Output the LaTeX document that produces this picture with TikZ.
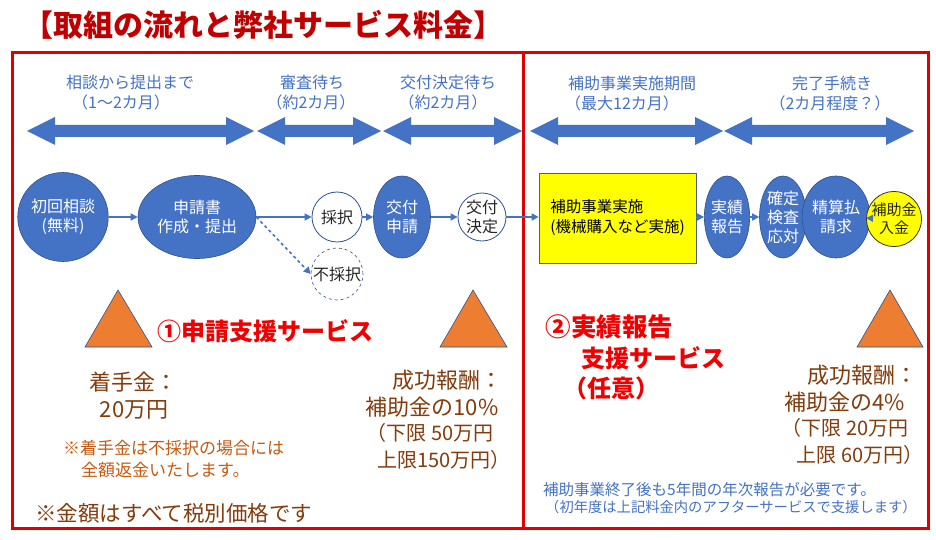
\documentclass[tikz,border=0pt]{standalone}
\usepackage{fontspec}
\setmainfont{Noto Sans CJK JP}
\usetikzlibrary{arrows.meta,shapes.geometric}
\definecolor{tblue}{HTML}{4472C4}
\definecolor{dblue}{HTML}{2F528F}
\definecolor{titlered}{HTML}{C00000}
\definecolor{boxred}{HTML}{E00000}
\definecolor{brightred}{HTML}{F00000}
\definecolor{tbrown}{HTML}{843C0C}
\definecolor{torange}{HTML}{C55A11}
\definecolor{tri}{HTML}{ED7D31}
\definecolor{yel}{HTML}{FFFF00}
\newcommand{\fsz}[2]{\fontsize{#1}{#2}\selectfont}
\newcommand{\dblarrow}[3]{%
  \fill[tblue] (#1,#3) -- ++(28,-14) -- ++(0,8) -- (#2-28,#3-6) -- ++(0,-8) -- (#2,#3) -- ++(-28,14) -- ++(0,-8) -- (#1+28,#3+6) -- ++(0,8) -- cycle;}
\tikzset{
  blueell/.style={ellipse,fill=tblue,draw=dblue,line width=0.6pt,text=white,inner sep=0pt,align=center,font=\fsz{16}{18.5}},
  whitecirc/.style={circle,fill=white,draw=dblue,line width=0.8pt,text=black!85,inner sep=0pt,align=center,font=\fsz{16}{18.5}},
  flow/.style={tblue,line width=1.6pt,-{Triangle[length=7pt,width=7pt]}},
  periodlbl/.style={text=tblue,align=center,font=\fsz{16}{20}},
  tri/.style={fill=tri,draw=dblue,line width=0.6pt},
  brownlbl/.style={text=tbrown,inner sep=0pt},
}
\begin{document}
\begin{tikzpicture}[x=1pt,y=-1pt]
\useasboundingbox (0,0) rectangle (936,540);
\fill[white] (0,0) rectangle (936,540);
% title
\node[text=titlered,font=\fsz{30}{32}\bfseries] (title) at (263,25) {【取組の流れと弊社サービス料金】};
% frames
\draw[boxred,line width=3pt] (12,53) rectangle (928,528);
\draw[boxred,line width=3pt] (523.5,53) -- (523.5,528);
% period arrows
\dblarrow{27}{254}{131}
\dblarrow{257}{381}{131}
\dblarrow{383}{522}{131}
\dblarrow{530}{723}{131}
\dblarrow{724}{914}{131}
% period labels
\node[periodlbl] (p1a) at (130,82) {相談から提出まで};
\node[periodlbl] (p1b) at (121,102) {（1〜2カ月）};
\node[periodlbl] (p2a) at (312,82) {審査待ち};
\node[periodlbl] (p2b) at (311,102) {（約2カ月）};
\node[periodlbl] (p3a) at (448,82) {交付決定待ち};
\node[periodlbl] (p3b) at (443,102) {（約2カ月）};
\node[periodlbl] (p4a) at (632,83) {補助事業実施期間};
\node[periodlbl] (p4b) at (622,103) {（最大12カ月）};
\node[periodlbl] (p5a) at (832,83) {完了手続き};
\node[periodlbl] (p5b) at (830,103) {（2カ月程度？）};
% flow nodes
\node[blueell,minimum width=68,minimum height=89] (n1) at (63,217) {初回相談\\(無料)};
\node[blueell,minimum width=118,minimum height=83,font=\fsz{16}{19}] (n2) at (197,217) {申請書\\作成・提出};
\node[whitecirc,minimum size=50] (n3) at (337,217) {採択};
\node[whitecirc,minimum size=52,dashed,line width=0.6pt] (n4) at (337,274) {不採択};
\node[blueell,minimum width=57,minimum height=82] (n5) at (402,217) {交付\\申請};
\node[whitecirc,minimum size=48] (n6) at (482,217) {交付\\決定};
\node[rectangle,fill=yel,draw=dblue!70!gray,line width=0.6pt,minimum width=157,minimum height=90,align=left,font=\fsz{15.5}{20},text=black] (n7) at (617.5,218) {補助事業実施\\(機械購入など実施)};
\node[blueell,minimum width=45,minimum height=82] (n8) at (727,217) {実績\\報告};
\node[blueell,minimum width=47,minimum height=82,font=\fsz{16}{19}] (n9) at (783,217) {確定\\検査\\応対};
\node[blueell,minimum width=42,minimum height=82] (n10) at (836,217) {精算払\\請求};
\node[whitecirc,fill=yel,draw=black!80,minimum size=52,font=\fsz{15}{18}] (n11) at (894,219) {補助金\\入金};
% flow arrows
\draw[flow] (n1) -- (n2);
\draw[flow] (n2) -- (n3);
\draw[flow,dashed] (n2.east) -- (n4.west);
\draw[flow] (n3) -- (n5);
\draw[flow] (n5) -- (n6);
\draw[flow] (n6) -- (n6 -| n7.west);
\draw[flow] (n7.east |- n8) -- (n8);
\draw[flow] (n8) -- (n9);
\draw[flow] (n9) -- (n10);
\draw[flow] (n10) -- (n11);
% triangles
\draw[tri] (85,347) -- (118,290) -- (152,347) -- cycle;
\draw[tri] (440,347) -- (473,290) -- (507,347) -- cycle;
\draw[tri] (857,347) -- (890,290) -- (923,347) -- cycle;
% service labels
\node[text=brightred,font=\fsz{24}{26}\bfseries] (s1) at (265,331) {①申請支援サービス};
\node[text=brightred,font=\fsz{25.5}{27}\bfseries,anchor=west] (s2a) at (542,327) {②実績報告};
\node[text=brightred,font=\fsz{24}{26}\bfseries,anchor=west] (s2b) at (578,358) {支援サービス};
\node[text=brightred,font=\fsz{24}{26}\bfseries,anchor=west] (s2c) at (560,388) {（任意）};
% fees left
\node[brownlbl,font=\fsz{22}{24}] (f1a) at (133,382) {着手金：};
\node[brownlbl,font=\fsz{22}{24}] (f1b) at (134,410) {20万円};
\node[text=torange,font=\fsz{17}{19},anchor=west,inner sep=0pt] (note1) at (63,448) {※着手金は不採択の場合には};
\node[text=torange,font=\fsz{17}{19},anchor=west,inner sep=0pt] (note2) at (81,470) {全額返金いたします。};
\node[brownlbl,font=\fsz{21.5}{24},anchor=west] (tax) at (35,513) {※金額はすべて税別価格です};
% fees middle
\node[brownlbl,font=\fsz{22}{24}] (f2a) at (447,380) {成功報酬：};
\node[brownlbl,font=\fsz{22}{24}] (f2b) at (432,407) {補助金の10\%};
\node[brownlbl,font=\fsz{20}{22}] (f2c) at (430,433) {（下限 50万円};
\node[brownlbl,font=\fsz{20}{22}] (f2d) at (444,460) {上限150万円）};
% fees right
\node[brownlbl,font=\fsz{22}{24}] (f3a) at (862,375) {成功報酬：};
\node[brownlbl,font=\fsz{22}{24}] (f3b) at (845,402) {補助金の4\%};
\node[brownlbl,font=\fsz{20}{22}] (f3c) at (845,428) {（下限 20万円};
\node[brownlbl,font=\fsz{20}{22}] (f3d) at (860,455) {上限 60万円）};
% footnote
\node[text=tblue,font=\fsz{15.5}{17},anchor=west,inner sep=0pt] (fn1) at (543,490) {補助事業終了後も5年間の年次報告が必要です。};
\node[text=tblue,font=\fsz{14.3}{16},anchor=west,inner sep=0pt] (fn2) at (545,507) {（初年度は上記料金内のアフターサービスで支援します）};
\end{tikzpicture}
\end{document}
